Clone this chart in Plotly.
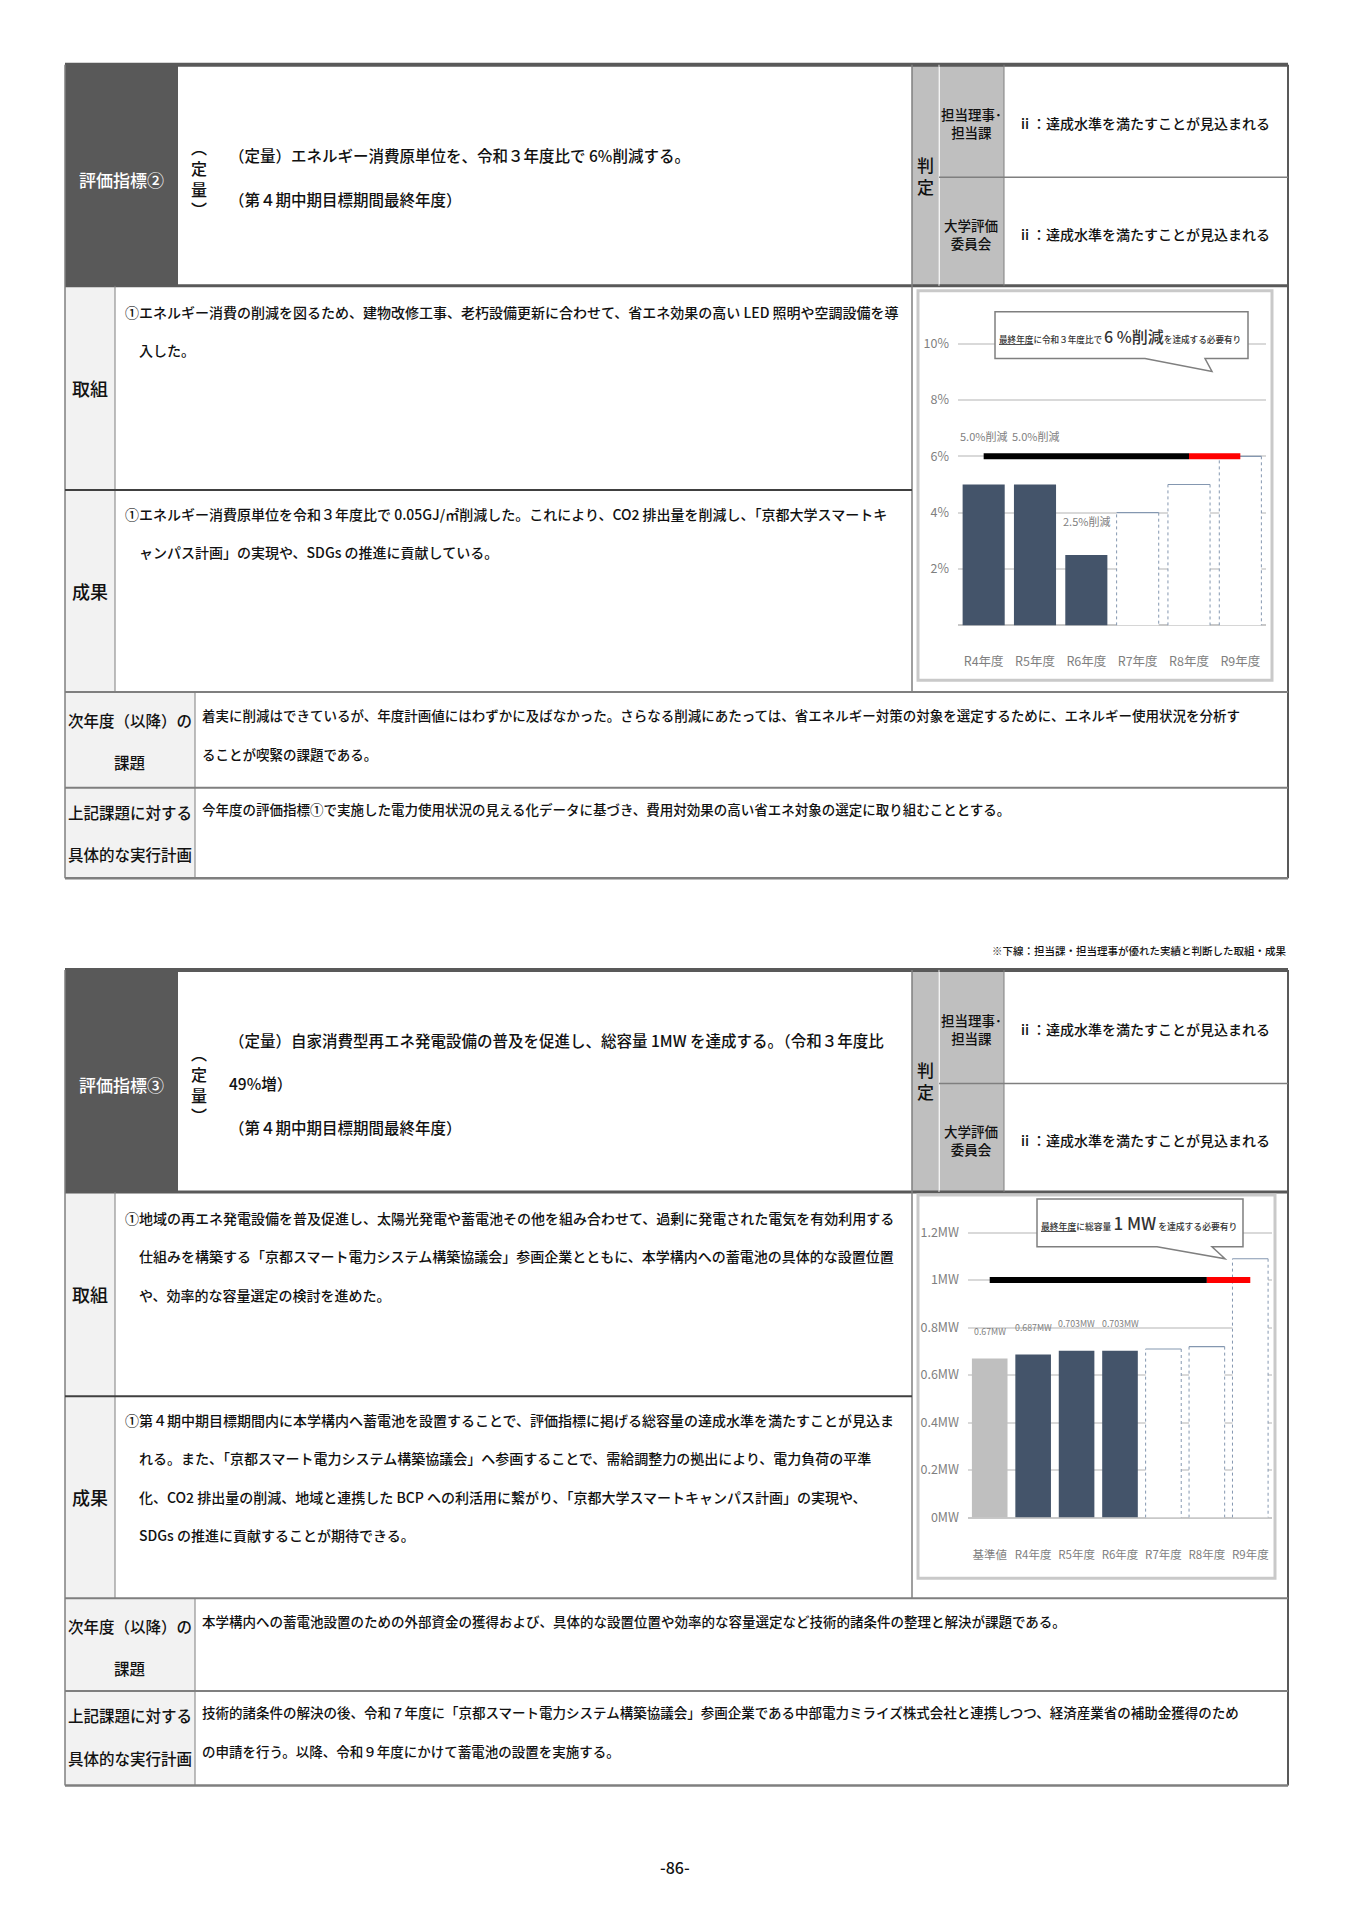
import plotly.graph_objects as go

# page size (the html body adds an 8px margin round the plot div)
W, H = 1335, 1900
OFF = 8
FONT = "Noto Sans CJK JP"
INK = "#111111"

def px(x):
    return (x - OFF) / W

def py(y):
    return 1 - (y - OFF) / H

# ---- data: indicator 2 (energy intensity reduction, %) ----
cats_energy = ["R4年度", "R5年度", "R6年度", "R7年度", "R8年度", "R9年度"]
energy_actual = [5.0, 5.0, 2.5]
energy_plan = [4.0, 5.0, 6.0]
energy_labels = ["5.0%削減", "5.0%削減", "2.5%削減"]
energy_target = 6.0
energy_tickvals = [2, 4, 6, 8, 10]
energy_ticktext = ["2%", "4%", "6%", "8%", "10%"]

# ---- data: indicator 3 (self-consumption renewables, MW) ----
cats_pv = ["基準値", "R4年度", "R5年度", "R6年度", "R7年度", "R8年度", "R9年度"]
pv_base = [0.67]
pv_actual = [0.687, 0.703, 0.703]
pv_plan = [0.71, 0.72, 1.09]
pv_labels = ["0.67MW", "0.687MW", "0.703MW", "0.703MW"]
pv_target = 1.0
pv_tickvals = [0, 0.2, 0.4, 0.6, 0.8, 1.0, 1.2]
pv_ticktext = ["0MW", "0.2MW", "0.4MW", "0.6MW", "0.8MW", "1MW", "1.2MW"]

BAR_W = 0.82
DARK_BAR = "#44546a"
GRAY_TXT = "#7f7f7f"
PLAN_LINE = "#8497b0"

fig = go.Figure()


def add_bar_chart(xa, ya, actual, plan, target, base=None):
    start = 0
    if base:
        fig.add_trace(go.Bar(x=list(range(len(base))), y=base, width=BAR_W,
                             marker=dict(color="#bfbfbf", line_width=0),
                             xaxis=xa, yaxis=ya, hoverinfo="skip"))
        start = len(base)
    xs_act = list(range(start, start + len(actual)))
    fig.add_trace(go.Bar(x=xs_act, y=actual, width=BAR_W,
                         marker=dict(color=DARK_BAR, line_width=0),
                         xaxis=xa, yaxis=ya, hoverinfo="skip"))
    xs_plan = list(range(start + len(actual), start + len(actual) + len(plan)))
    fig.add_trace(go.Bar(x=xs_plan, y=plan, width=BAR_W,
                         marker=dict(color="white", line_width=0),
                         xaxis=xa, yaxis=ya, hoverinfo="skip"))
    # dotted sides and solid top for the planned bars
    sx, sy, tx, ty = [], [], [], []
    for xv, v in zip(xs_plan, plan):
        l, r = xv - BAR_W / 2, xv + BAR_W / 2
        sx += [l, l, None, r, r, None]
        sy += [0, v, None, v, 0, None]
        tx += [l, r, None]
        ty += [v, v, None]
    fig.add_trace(go.Scatter(x=sx, y=sy, mode="lines", xaxis=xa, yaxis=ya,
                             line=dict(color=PLAN_LINE, width=1, dash="dot"), hoverinfo="skip"))
    fig.add_trace(go.Scatter(x=tx, y=ty, mode="lines", xaxis=xa, yaxis=ya,
                             line=dict(color=PLAN_LINE, width=1.2), hoverinfo="skip"))
    # target line: black up to R8, red for the last year
    last = start + len(actual) + len(plan) - 1
    fig.add_trace(go.Scatter(x=[0, last - 1], y=[target, target], mode="lines",
                             xaxis=xa, yaxis=ya, line=dict(color="black", width=6),
                             hoverinfo="skip"))
    fig.add_trace(go.Scatter(x=[last - 1, last], y=[target, target], mode="lines",
                             xaxis=xa, yaxis=ya, line=dict(color="#ff0000", width=6),
                             hoverinfo="skip"))


add_bar_chart("x", "y", energy_actual, energy_plan, energy_target)
add_bar_chart("x2", "y2", pv_actual, pv_plan, pv_target, base=pv_base)

shapes = []
annos = []


def rect(x0, y0, x1, y1, fill, lc=None, lw=0, layer="below"):
    shapes.append(dict(type="rect", xref="paper", yref="paper",
                       x0=px(x0), x1=px(x1), y0=py(y1), y1=py(y0),
                       fillcolor=fill, line=dict(color=lc or fill, width=lw), layer=layer))


def line(x0, y0, x1, y1, color="#7f7f7f", width=1.5):
    shapes.append(dict(type="line", xref="paper", yref="paper",
                       x0=px(x0), x1=px(x1), y0=py(y0), y1=py(y1),
                       line=dict(color=color, width=width), layer="below"))


def txt(x, y, text, size=14, color=INK, xanchor="left", yanchor="middle", align="left"):
    annos.append(dict(xref="paper", yref="paper", x=px(x), y=py(y), text=text,
                      showarrow=False, xanchor=xanchor, yanchor=yanchor, align=align,
                      font=dict(size=size, color=color, family=FONT, weight=500)))


L, R = 65, 1288
JUDGE0, JUDGE1, JUDGE2 = 912, 939, 1004


def draw_table(top, hdr_bot, mid, r1, r2, r3, bot, num, head_lines, judge, torikumi, seika, kadai, plan):
    # fills
    rect(L, top, 178, hdr_bot, "#595959")
    rect(JUDGE0, top, JUDGE1, hdr_bot, "#bfbfbf")
    rect(JUDGE1 + 1, top, JUDGE2, hdr_bot, "#bfbfbf")
    rect(L, hdr_bot, 115, r2, "#f2f2f2")
    rect(L, r2, 195, bot, "#f2f2f2")
    # borders
    line(L, top, R, top, "#595959", 4)
    line(L, hdr_bot, R, hdr_bot, "#595959", 3)
    line(L, top, L, bot, "#7f7f7f", 1.5)
    line(R, top, R, bot, "#595959", 2)
    line(JUDGE0, top, JUDGE0, r2, "#7f7f7f", 1.5)
    line(JUDGE1, top, JUDGE1, hdr_bot, "#e6e6e6", 1)
    line(JUDGE2, top, JUDGE2, hdr_bot, "#7f7f7f", 1)
    line(JUDGE1, mid, R, mid, "#7f7f7f", 1.5)
    line(115, hdr_bot, 115, r2, "#7f7f7f", 1)
    line(L, r1, JUDGE0, r1, "#404040", 2)
    line(L, r2, R, r2, "#7f7f7f", 2)
    line(195, r2, 195, bot, "#7f7f7f", 1)
    line(L, r3, R, r3, "#7f7f7f", 2)
    line(L, bot, R, bot, "#7f7f7f", 2.5)

    hc = (top + hdr_bot) / 2
    txt(121, hc + 4, "評価指標" + num, 17, "white", "center")
    txt(199, hc + 3, "︵<br>定<br>量<br>︶", 16, INK, "center", align="center")
    for yy, s in head_lines:
        txt(227, yy, s, 15.5)
    txt(925, hc, "判<br>定", 17, INK, "center", align="center")
    txt(971, (top + mid) / 2 + 2, "担当理事･<br>担当課", 13.5, INK, "center", align="center")
    txt(971, (mid + hdr_bot) / 2 + 2, "大学評価<br>委員会", 13.5, INK, "center", align="center")
    txt(1016, (top + mid) / 2 + 2, judge, 14)
    txt(1016, (mid + hdr_bot) / 2 + 2, judge, 14)

    txt(90, (hdr_bot + r1) / 2, "取組", 18, INK, "center")
    txt(90, (r1 + r2) / 2, "成果", 18, INK, "center")
    for i, s in enumerate(torikumi):
        txt(123 if i == 0 else 137, hdr_bot + 26 + i * 38.5, s, 14)
    for i, s in enumerate(seika):
        txt(123 if i == 0 else 137, r1 + 24 + i * 38.5, s, 14)
    txt(130, r2 + 28, "次年度（以降）の", 15.5, INK, "center")
    txt(130, r2 + 70, "課題", 15.5, INK, "center")
    txt(130, r3 + 24, "上記課題に対する", 15.5, INK, "center")
    txt(130, r3 + 67, "具体的な実行計画", 15.5, INK, "center")
    for i, s in enumerate(kadai):
        txt(200, r2 + 23 + i * 39, s, 13.5)
    for i, s in enumerate(plan):
        txt(200, r3 + 21 + i * 39, s, 13.5)


JUDGE_TXT = "ⅱ：達成水準を満たすことが見込まれる"

draw_table(
    65, 287, 178, 492, 695, 791, 882, "②",
    [(156, "（定量）エネルギー消費原単位を、令和３年度比で 6%削減する。"),
     (200, "（第４期中期目標期間最終年度）")],
    JUDGE_TXT,
    ["①エネルギー消費の削減を図るため、建物改修工事、老朽設備更新に合わせて、省エネ効果の高い LED 照明や空調設備を導",
     "入した。"],
    ["①エネルギー消費原単位を令和３年度比で 0.05GJ/㎡削減した。これにより、CO2 排出量を削減し、「京都大学スマートキ",
     "ャンパス計画」の実現や、SDGs の推進に貢献している。"],
    ["着実に削減はできているが、年度計画値にはわずかに及ばなかった。さらなる削減にあたっては、省エネルギー対策の対象を選定するために、エネルギー使用状況を分析す",
     "ることが喫緊の課題である。"],
    ["今年度の評価指標①で実施した電力使用状況の見える化データに基づき、費用対効果の高い省エネ対象の選定に取り組むこととする。"],
)

draw_table(
    974, 1197, 1088, 1402, 1605, 1698, 1793, "③",
    [(1044, "（定量）自家消費型再エネ発電設備の普及を促進し、総容量 1MW を達成する。（令和３年度比"),
     (1088, "49%増）"),
     (1132, "（第４期中期目標期間最終年度）")],
    JUDGE_TXT,
    ["①地域の再エネ発電設備を普及促進し、太陽光発電や蓄電池その他を組み合わせて、過剰に発電された電気を有効利用する",
     "仕組みを構築する「京都スマート電力システム構築協議会」参画企業とともに、本学構内への蓄電池の具体的な設置位置",
     "や、効率的な容量選定の検討を進めた。"],
    ["①第４期中期目標期間内に本学構内へ蓄電池を設置することで、評価指標に掲げる総容量の達成水準を満たすことが見込ま",
     "れる。また、「京都スマート電力システム構築協議会」へ参画することで、需給調整力の拠出により、電力負荷の平準",
     "化、CO2 排出量の削減、地域と連携した BCP への利活用に繋がり、「京都大学スマートキャンパス計画」の実現や、",
     "SDGs の推進に貢献することが期待できる。"],
    ["本学構内への蓄電池設置のための外部資金の獲得および、具体的な設置位置や効率的な容量選定など技術的諸条件の整理と解決が課題である。"],
    ["技術的諸条件の解決の後、令和７年度に「京都スマート電力システム構築協議会」参画企業である中部電力ミライズ株式会社と連携しつつ、経済産業省の補助金獲得のため",
     "の申請を行う。以降、令和９年度にかけて蓄電池の設置を実施する。"],
)

# chart frames
rect(918, 292, 1272, 683, "white", "#c9c9c9", 3)
rect(918, 1200, 1275, 1585, "white", "#c9c9c9", 3)


def callout(x0, y0, x1, y1, tl, tr, tip):
    pts = [(x0, y0), (x1, y0), (x1, y1), (tr, y1), tip, (tl, y1), (x0, y1)]
    path = "M " + " L ".join(f"{px(a):.5f},{py(b):.5f}" for a, b in pts) + " Z"
    shapes.append(dict(type="path", xref="paper", yref="paper", path=path,
                       fillcolor="white", line=dict(color="#7f7f7f", width=1.5), layer="above"))


callout(995, 313, 1248, 360, 1145, 1205, (1212, 373))
callout(1037, 1204, 1243, 1252, 1157, 1212, (1225, 1264))
txt(997, 337, "<u>最終年度</u>に令和３年度比で <span style='font-size:16px'>6 %削減</span>を達成する必要有り",
    8.6, "#333333")
txt(1039, 1228, "<u>最終年度</u>に総容量 <span style='font-size:17px'>1 MW</span> を達成する必要有り",
    8.8, "#333333")

# value labels on the bars
for i, (v, s) in enumerate(zip(energy_actual, energy_labels)):
    if energy_target - v < 1.5:
        yv, shift = energy_target, 20
    else:
        yv, shift = v, 34
    annos.append(dict(xref="x", yref="y", x=i, y=yv, yshift=shift, text=s, showarrow=False,
                      font=dict(size=11, color=GRAY_TXT, family=FONT)))
for i, (v, s) in enumerate(zip(pv_base + pv_actual, pv_labels)):
    annos.append(dict(xref="x2", yref="y2", x=i, y=v, yshift=27, text=s, showarrow=False,
                      font=dict(size=8.8, color=GRAY_TXT, family=FONT)))

# footnote and page number
txt(1288, 954, "※下線：担当課・担当理事が優れた実績と判断した取組・成果", 10.5, INK, "right")
txt(675, 1875, "-86-", 16, INK, "center")

ytick = dict(showline=False, ticks="", tickfont=dict(size=12.5, color=GRAY_TXT, family=FONT),
             showgrid=True, gridcolor="#d9d9d9", gridwidth=1.5, zeroline=True,
             zerolinecolor="#c8c8c8", zerolinewidth=1.5, ticklabelstandoff=8, fixedrange=True)

fig.update_layout(
    width=W, height=H, margin=dict(l=0, r=0, t=0, b=0),
    paper_bgcolor="white", plot_bgcolor="rgba(0,0,0,0)",
    showlegend=False, hovermode=False, barmode="overlay",
    font=dict(family=FONT),
    shapes=shapes, annotations=annos,
    xaxis=dict(domain=[px(958), px(1266)], range=[-0.5, 5.5], tickvals=list(range(len(cats_energy))),
               ticktext=cats_energy, showgrid=False, zeroline=False, showline=False, ticks="",
               ticklabelstandoff=27, fixedrange=True,
               tickfont=dict(size=12.5, color=GRAY_TXT, family=FONT)),
    yaxis=dict(domain=[py(628), py(628 - 11 * 28.3)], range=[0, 11], tickvals=energy_tickvals,
               ticktext=energy_ticktext, **ytick),
    xaxis2=dict(domain=[px(968), px(1272)], range=[-0.5, 6.5], tickvals=list(range(len(cats_pv))),
                ticktext=cats_pv, showgrid=False, zeroline=False, showline=False, ticks="",
                ticklabelstandoff=29, fixedrange=True, anchor="y2",
                tickfont=dict(size=11.5, color=GRAY_TXT, family=FONT)),
    yaxis2=dict(domain=[py(1524), py(1524 - 1.3 * 238.5)], range=[0, 1.3], tickvals=pv_tickvals,
                ticktext=pv_ticktext, anchor="x2", **ytick),
)

fig.write_html("out.html", config=dict(displayModeBar=False))
